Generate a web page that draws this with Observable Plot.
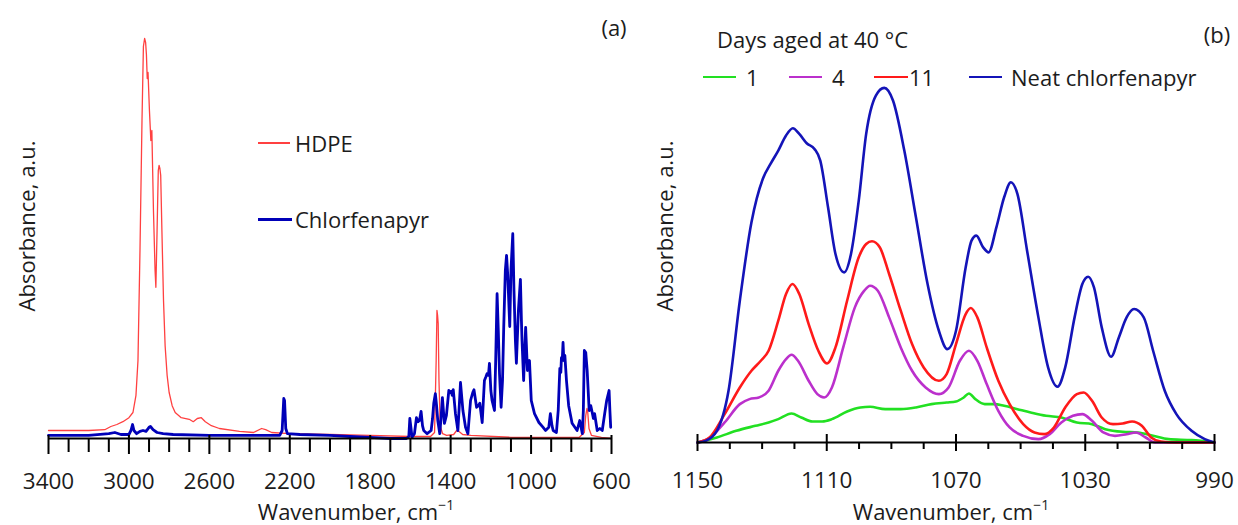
<!DOCTYPE html>
<html>
<head>
<meta charset="utf-8">
<script src="https://cdn.jsdelivr.net/npm/d3@7"></script>
<script src="https://cdn.jsdelivr.net/npm/@observablehq/plot@0.6"></script>
<style>
  body { margin: 0; background: #fff; }
  #wrap { position: relative; width: 1238px; height: 525px; overflow: hidden; font-family: "Open Sans", sans-serif; color: #1c1c1c; }
  .pl { position: absolute; top: 0; }
  .t { position: absolute; white-space: nowrap; font-size: 22px; line-height: 1; }
  .c { transform: translate(-50%, -50%); }
  .l { transform: translate(0, -50%); }
  .rot { transform: translate(-50%, -50%) rotate(-90deg); }
  .sw { position: absolute; }
  sup { font-size: 14px; position: relative; top: -2px; }
</style>
</head>
<body>
<div id="wrap"></div>
<script>
// ---------- Panel (a): full spectra ----------
const hdpeWn = [3400, 3200, 3120, 3090, 3060, 3030, 3000, 2980, 2965, 2955, 2945, 2935, 2928, 2922, 2917, 2913, 2909, 2905, 2898, 2891, 2886, 2878, 2870, 2866, 2860, 2854, 2850, 2846, 2842, 2836, 2828, 2820, 2810, 2800, 2785, 2770, 2740, 2700, 2680, 2660, 2640, 2620, 2590, 2550, 2450, 2380, 2340, 2320, 2290, 2200, 2000, 1800, 1600, 1500, 1480, 1472, 1468, 1465, 1462, 1458, 1452, 1440, 1420, 1385, 1370, 1360, 1340, 1300, 1100, 900, 760, 735, 728, 722, 718, 712, 700, 650, 600];
const hdpeAbs = [0.02, 0.02, 0.022, 0.03, 0.035, 0.042, 0.052, 0.065, 0.108, 0.195, 0.47, 0.795, 0.98, 1.0, 0.99, 0.96, 0.9, 0.915, 0.82, 0.745, 0.77, 0.57, 0.42, 0.378, 0.52, 0.67, 0.683, 0.675, 0.658, 0.52, 0.345, 0.232, 0.158, 0.115, 0.082, 0.065, 0.052, 0.048, 0.042, 0.05, 0.052, 0.042, 0.032, 0.025, 0.018, 0.015, 0.025, 0.022, 0.015, 0.012, 0.01, 0.008, 0.005, 0.005, 0.015, 0.195, 0.32, 0.308, 0.288, 0.145, 0.032, 0.012, 0.008, 0.01, 0.02, 0.018, 0.01, 0.008, 0.003, 0.003, 0.003, 0.015, 0.058, 0.075, 0.065, 0.025, 0.008, 0.003, 0.0];

const chlWn = [3400, 3200, 3100, 3070, 3040, 3000, 2990, 2982, 2975, 2962, 2945, 2930, 2915, 2900, 2893, 2880, 2860, 2830, 2780, 2600, 2400, 2250, 2238, 2230, 2226, 2220, 2212, 2150, 2000, 1900, 1800, 1700, 1620, 1608, 1603, 1597, 1592, 1580, 1570, 1562, 1555, 1547, 1540, 1534, 1517, 1497, 1490, 1484, 1476, 1470, 1464, 1454, 1448, 1441, 1431, 1421, 1409, 1403, 1397, 1392, 1387, 1376, 1364, 1357, 1351, 1339, 1326, 1314, 1301, 1290, 1284, 1271, 1262, 1255, 1243, 1232, 1224, 1219, 1212, 1207, 1200, 1194, 1182, 1176, 1169, 1163, 1157, 1149, 1142, 1136, 1128, 1122, 1116, 1106, 1100, 1091, 1085, 1078, 1073, 1063, 1053, 1048, 1045, 1037, 1027, 1018, 1008, 999, 983, 961, 940, 928, 912, 904, 896, 890, 874, 865, 857, 852, 849, 845, 841, 837, 832, 824, 813, 796, 771, 758, 745, 740, 735, 728, 721, 711, 703, 696, 690, 684, 671, 658, 646, 634, 624, 612, 608, 604];
const chlAbs = [0.008, 0.008, 0.012, 0.015, 0.01, 0.01, 0.02, 0.035, 0.02, 0.012, 0.018, 0.02, 0.018, 0.028, 0.03, 0.022, 0.015, 0.012, 0.01, 0.008, 0.008, 0.008, 0.02, 0.1, 0.095, 0.025, 0.012, 0.01, 0.008, 0.005, 0.003, 0.0, 0.0, 0.005, 0.05, 0.025, 0.003, 0.012, 0.052, 0.042, 0.045, 0.068, 0.032, 0.02, 0.012, 0.02, 0.05, 0.088, 0.112, 0.082, 0.045, 0.012, 0.05, 0.102, 0.038, 0.058, 0.12, 0.115, 0.118, 0.108, 0.122, 0.062, 0.02, 0.082, 0.14, 0.07, 0.028, 0.012, 0.095, 0.115, 0.122, 0.078, 0.082, 0.088, 0.04, 0.145, 0.155, 0.162, 0.158, 0.188, 0.12, 0.095, 0.07, 0.195, 0.362, 0.27, 0.162, 0.078, 0.145, 0.278, 0.42, 0.458, 0.408, 0.28, 0.42, 0.512, 0.37, 0.245, 0.188, 0.32, 0.398, 0.295, 0.245, 0.145, 0.278, 0.17, 0.195, 0.095, 0.062, 0.04, 0.028, 0.02, 0.028, 0.062, 0.032, 0.02, 0.015, 0.07, 0.175, 0.165, 0.202, 0.195, 0.24, 0.195, 0.208, 0.145, 0.082, 0.038, 0.02, 0.045, 0.012, 0.07, 0.22, 0.215, 0.17, 0.07, 0.082, 0.065, 0.05, 0.062, 0.02, 0.025, 0.02, 0.062, 0.095, 0.12, 0.07, 0.028];

const aMajor = [3400, 3000, 2600, 2200, 1800, 1400, 1000, 600];
const aMinor = [3300, 3200, 3100, 2900, 2800, 2700, 2500, 2400, 2300, 2100, 2000, 1900, 1700, 1600, 1500, 1300, 1200, 1100, 900, 800, 700];

// ---------- Panel (b): 1150-990 region ----------
const neatWn = [1150, 1147.5, 1144, 1140.4, 1136.9, 1133.3, 1129.8, 1127.4, 1125, 1122.6, 1120.5, 1118.5, 1116.2, 1113.8, 1112, 1109.6, 1107.3, 1104.6, 1102.5, 1100.1, 1097.8, 1094.8, 1092.2, 1089.5, 1086, 1082.4, 1078.8, 1075.3, 1072.7, 1070, 1067, 1065.2, 1063.7, 1061.6, 1059.9, 1057.5, 1055.1, 1053, 1051, 1048, 1044.5, 1041.5, 1038.6, 1036.2, 1033.3, 1030.9, 1029.1, 1027.3, 1024.9, 1022, 1019.6, 1017.2, 1014.9, 1011.9, 1009, 1005.4, 1001.8, 997.1, 993, 990];
const neatAbs = [0, 0.005, 0.035, 0.155, 0.425, 0.66, 0.79, 0.835, 0.875, 0.92, 0.942, 0.925, 0.897, 0.88, 0.845, 0.705, 0.565, 0.51, 0.565, 0.725, 0.925, 1.04, 1.063, 1.025, 0.875, 0.675, 0.475, 0.335, 0.28, 0.335, 0.525, 0.605, 0.62, 0.585, 0.57, 0.645, 0.735, 0.78, 0.745, 0.575, 0.375, 0.225, 0.167, 0.225, 0.375, 0.475, 0.497, 0.465, 0.345, 0.257, 0.315, 0.375, 0.4, 0.375, 0.275, 0.155, 0.085, 0.035, 0.01, 0];

const d11Wn = [1150, 1146.3, 1141.6, 1136.9, 1133.3, 1130.4, 1128, 1125, 1122.6, 1120.6, 1118.5, 1115.6, 1112.6, 1109.9, 1107.3, 1103.7, 1100.1, 1097.8, 1096, 1093.6, 1090.7, 1087.1, 1083.6, 1080, 1075.3, 1072.9, 1070, 1067, 1065.4, 1063.4, 1060.5, 1056.9, 1053.4, 1049.2, 1045.7, 1042.7, 1039.7, 1036.2, 1032.6, 1030.5, 1027.9, 1024.9, 1021.4, 1018.4, 1015.5, 1012.5, 1009.6, 1006.6, 1001.8, 990];
const d11Abs = [0, 0.015, 0.085, 0.165, 0.215, 0.245, 0.275, 0.365, 0.445, 0.475, 0.445, 0.355, 0.275, 0.237, 0.285, 0.425, 0.555, 0.595, 0.603, 0.585, 0.505, 0.395, 0.295, 0.225, 0.185, 0.205, 0.295, 0.385, 0.403, 0.375, 0.285, 0.185, 0.115, 0.055, 0.03, 0.025, 0.045, 0.105, 0.145, 0.15, 0.125, 0.075, 0.055, 0.057, 0.063, 0.05, 0.015, 0.003, 0, 0];

const d4Wn = [1150, 1146.3, 1141.6, 1136.9, 1133.9, 1131, 1128, 1125, 1122.6, 1120.9, 1118.9, 1115.6, 1112.9, 1110.8, 1108.4, 1104.9, 1101.3, 1098.4, 1096.6, 1094.2, 1090.7, 1087.1, 1083.6, 1079.4, 1075.3, 1072.3, 1068.8, 1066, 1063.4, 1060.5, 1056.9, 1053.4, 1049.2, 1044.5, 1041, 1037.4, 1033.8, 1030.9, 1027.9, 1024.4, 1020.8, 1017.2, 1014.3, 1011.3, 1008.4, 990];
const d4Abs = [0, 0.013, 0.06, 0.115, 0.13, 0.135, 0.155, 0.215, 0.25, 0.263, 0.245, 0.185, 0.145, 0.135, 0.165, 0.285, 0.405, 0.455, 0.47, 0.455, 0.375, 0.285, 0.215, 0.165, 0.145, 0.165, 0.245, 0.275, 0.245, 0.175, 0.095, 0.045, 0.02, 0.01, 0.025, 0.06, 0.08, 0.085, 0.065, 0.03, 0.02, 0.025, 0.03, 0.015, 0, 0];

const d1Wn = [1150, 1144, 1138, 1132.1, 1128, 1125, 1120.9, 1117.9, 1114.4, 1111.4, 1108.4, 1103.7, 1099.6, 1096.6, 1091.9, 1087.1, 1082.4, 1077.6, 1072.9, 1070, 1067.6, 1066, 1064, 1061.1, 1058.1, 1055.1, 1051, 1046.9, 1042.1, 1037.4, 1032.6, 1027.9, 1023.8, 1018.4, 1013.7, 1009, 1004.2, 997.1, 990];
const d1Abs = [0, 0.015, 0.035, 0.05, 0.06, 0.07, 0.087, 0.075, 0.063, 0.063, 0.07, 0.093, 0.105, 0.107, 0.1, 0.1, 0.105, 0.115, 0.12, 0.123, 0.135, 0.147, 0.13, 0.115, 0.115, 0.11, 0.1, 0.09, 0.08, 0.075, 0.06, 0.055, 0.04, 0.032, 0.03, 0.02, 0.01, 0.007, 0];

const bMajor = [1150, 1110, 1070, 1030, 990];
const bMinor = [1140, 1130, 1120, 1100, 1090, 1080, 1060, 1050, 1040, 1020, 1010, 1000];

const seriesB = ["1", "4", "11", "Neat chlorfenapyr"];
const colorsB = ["#22e022", "#bb30cc", "#ff1a1a", "#1414b8"];
const colorsA = ["#ff4040", "#0000b8"];

const rows = (wn, ab) => wn.map((w, i) => ({w, a: ab[i]}));

function axisMarks(major, minor, majSize, majUp, minSize, pad) {
  return [
    Plot.ruleY([0], {stroke: "#000", strokeWidth: 2}),
    Plot.axisX(major, {tickSize: majSize, dy: -majUp, text: null, label: null, stroke: "#000", strokeWidth: 2}),
    Plot.axisX(minor, {tickSize: minSize, text: null, label: null, stroke: "#000", strokeWidth: 2}),
    Plot.axisX(major, {tickSize: 0, tickPadding: pad, label: null, fontSize: 22.5, fill: "#1c1c1c", tickFormat: d => String(d)})
  ];
}

const plotA = Plot.plot({
  width: 640, height: 525,
  marginLeft: 48, marginRight: 29, marginTop: 18, marginBottom: 87,
  x: {domain: [3400, 600]},
  y: {domain: [0, 1.05], axis: null},
  style: {fontFamily: "Open Sans", background: "transparent", overflow: "visible"},
  marks: [
    Plot.line(rows(hdpeWn, hdpeAbs), {x: "w", y: "a", stroke: colorsA[0], strokeWidth: 1.3}),
    Plot.line(rows(chlWn, chlAbs), {x: "w", y: "a", stroke: colorsA[1], strokeWidth: 2.8}),
    ...axisMarks(aMajor, aMinor, 19, 3, 14, 35)
  ]
});

const bData = [rows(d1Wn, d1Abs), rows(d4Wn, d4Abs), rows(d11Wn, d11Abs), rows(neatWn, neatAbs)];
const plotB = Plot.plot({
  width: 598, height: 525,
  marginLeft: 57, marginRight: 24, marginTop: 75, marginBottom: 83,
  x: {domain: [1150, 990]},
  y: {domain: [0, 1.1], axis: null},
  style: {fontFamily: "Open Sans", background: "transparent", overflow: "visible"},
  marks: [
    ...bData.map((d, i) => Plot.line(d, {x: "w", y: "a", stroke: colorsB[i], strokeWidth: 2.6, curve: "monotone-x"})),
    ...axisMarks(bMajor, bMinor, 17, 8, 7, 30)
  ]
});

const wrap = document.getElementById("wrap");
const pa = document.createElement("div"); pa.className = "pl"; pa.style.left = "0px"; pa.appendChild(plotA);
const pb = document.createElement("div"); pb.className = "pl"; pb.style.left = "640px"; pb.appendChild(plotB);
wrap.appendChild(pa); wrap.appendChild(pb);

function text(html, x, y, cls, size) {
  const d = document.createElement("div");
  d.className = "t " + cls;
  d.style.left = x + "px"; d.style.top = y + "px";
  if (size) d.style.fontSize = size + "px";
  d.innerHTML = html;
  wrap.appendChild(d);
}
function swatch(x1, x2, y, color, w) {
  const d = document.createElement("div");
  d.className = "sw";
  d.style.left = x1 + "px"; d.style.width = (x2 - x1) + "px";
  d.style.top = (y - w / 2) + "px"; d.style.height = w + "px";
  d.style.background = color;
  wrap.appendChild(d);
}

// Panel (a) texts
text("(a)", 614, 27, "c");
text("Absorbance, a.u.", 26, 226, "rot", 22);
text("Wavenumber, cm<sup>−1</sup>", 356, 511, "c");
swatch(258, 290, 143, colorsA[0], 1.3);
text("HDPE", 295, 143, "l");
swatch(258, 292, 219, colorsA[1], 3);
text("Chlorfenapyr", 295, 219, "l");

// Panel (b) texts
text("(b)", 1217, 34, "c");
text("Absorbance, a.u.", 664, 226, "rot", 22);
text("Wavenumber, cm<sup>−1</sup>", 951, 511, "c");
text("Days aged at 40 °C", 717, 39, "l");
const legX = [[703, 736, 746], [789, 822, 832], [874, 908, 909], [969, 1002, 1011]];
seriesB.forEach((s, i) => {
  swatch(legX[i][0], legX[i][1], 77, colorsB[i], 2.5);
  text(s, legX[i][2], 77, "l");
});
</script>
</body>
</html>
